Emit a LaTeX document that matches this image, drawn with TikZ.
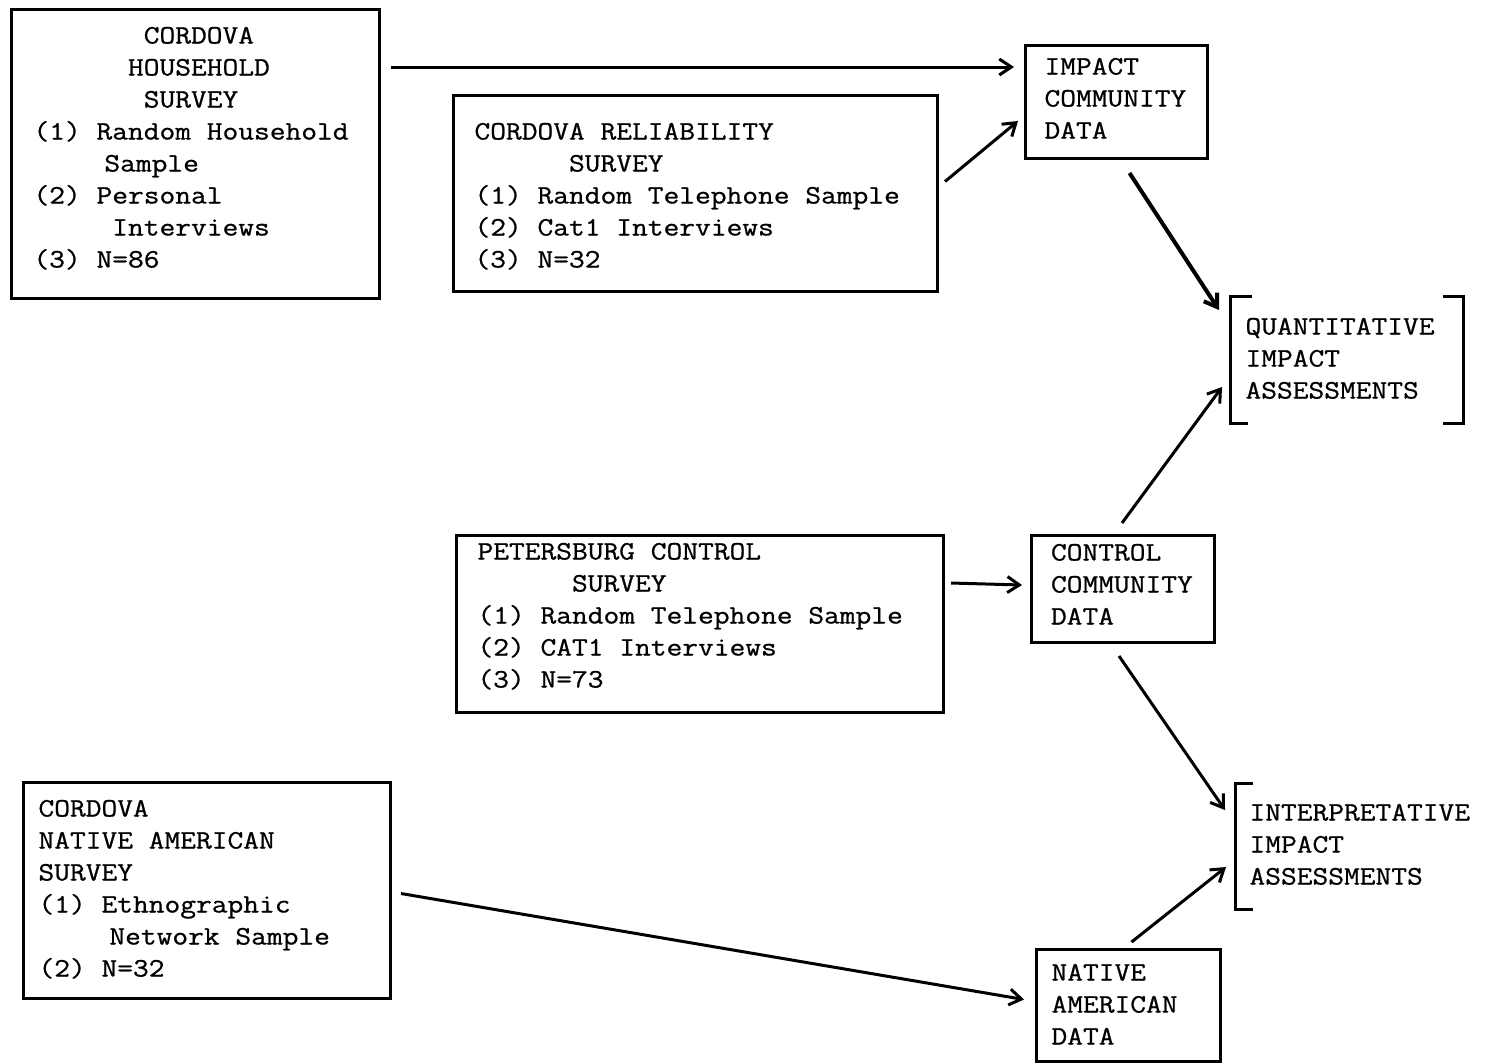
\documentclass[tikz,border=0pt]{standalone}
\usepackage{fontspec}
\usepackage{tikz}
\usetikzlibrary{arrows.meta,calc}
\newfontfamily\typed[FakeBold=0.8, FakeStretch=1.15]{Latin Modern Mono}
\newlength{\chw}
% typewriter font, with a space as wide as one character
\newcommand{\typefont}{\fontsize{13.3}{16}\selectfont\typed\settowidth{\chw}{0}%
  \fontdimen2\font=\chw \fontdimen3\font=0pt \fontdimen4\font=0pt \frenchspacing}
% indent by a number of typewriter characters
\newcommand{\indch}[1]{\hspace*{#1\chw}}

\begin{document}
\begin{tikzpicture}[x=0.5pt, y=-0.5pt,
    survey/.style={draw, line width=1.5pt, anchor=north west, inner ysep=0pt,
                   align=flush left, font=\typefont},
    result/.style={survey, draw=none},
    bracket/.style={line width=1.5pt},
    arr/.style={-{Straight Barb[length=6pt,width=8pt]}, line width=1.5pt}]
    \useasboundingbox (0,0) rectangle (1486,1062);

    % survey boxes
    \node[survey, inner xsep=11pt, text width=162pt, text height=17pt, text depth=127.5pt]
        (household) at (10,8) {
        \indch{7}CORDOVA\\
        \indch{6}HOUSEHOLD\\
        \indch{7}SURVEY\\
        (1) Random Household\\
        \indch{4.5}Sample\\
        (2) Personal\\
        \indch{5}Interviews\\
        (3) N=86};
    \node[survey, inner xsep=10.5pt, text width=221pt, text height=22pt, text depth=76pt]
        (reliability) at (452,94) {
        CORDOVA RELIABILITY\\
        \indch{6}SURVEY\\
        (1) Random Telephone Sample\\
        (2) Cat1 Interviews\\
        (3) N=32};
    \node[survey, inner xsep=10.5pt, text width=222.5pt, text height=12pt, text depth=76.5pt]
        (petersburg) at (455,534) {
        PETERSBURG CONTROL\\
        \indch{6}SURVEY\\
        (1) Random Telephone Sample\\
        (2) CAT1 Interviews\\
        (3) N=73};
    \node[survey, inner xsep=7.5pt, text width=168.5pt, text height=17pt, text depth=91pt]
        (native) at (22,781) {
        CORDOVA\\
        NATIVE AMERICAN\\
        SURVEY\\
        (1) Ethnographic\\
        \indch{4.5}Network Sample\\
        (2) N=32};

    % data boxes
    \node[survey, inner xsep=9.5pt, text width=72pt, text height=14.5pt, text depth=42pt]
        (impact) at (1024,44) {IMPACT\\COMMUNITY\\DATA};
    \node[survey, inner xsep=9.75pt, text width=72pt, text height=12.5pt, text depth=41pt]
        (control) at (1030,534) {CONTROL\\COMMUNITY\\DATA};
    \node[survey, inner xsep=7.5pt, text width=77pt, text height=15.5pt, text depth=40.5pt]
        (nativedata) at (1035,948) {NATIVE\\AMERICAN\\DATA};

    % assessments
    \node[result, inner xsep=7pt, text width=101pt, text height=18.5pt, text depth=43.5pt]
        (quant) at (1230,296) {QUANTITATIVE\\IMPACT\\ASSESSMENTS};
    \node[result, inner xsep=6.5pt, text width=112pt, text height=18pt, text depth=43.5pt]
        (interp) at (1235,783) {INTERPRETATIVE\\IMPACT\\ASSESSMENTS};

    \draw[bracket] ([xshift=11pt]quant.north west) -- (quant.north west)
        -- (quant.south west) -- ([xshift=9pt]quant.south west);
    \draw[bracket] ([xshift=-10pt]quant.north east) -- (quant.north east)
        -- (quant.south east) -- ([xshift=-10pt]quant.south east);
    \draw[bracket] ([xshift=9pt]interp.north west) -- (interp.north west)
        -- (interp.south west) -- ([xshift=9pt]interp.south west);

    % connectors
    \draw[arr] ($(household.north east)+(10,59)$) -- ($(impact.north west)+(-10,23)$);
    \draw[arr] ($(reliability.east)+(6,-12)$) -- ($(impact.south west)+(-6,-39)$);
    \draw[arr, line width=2pt] ($(impact.south)+(13,13)$) -- ($(quant.north west)+(-11,14)$);
    \draw[arr] ($(control.north)+(-1,-11)$) -- ($(quant.south west)+(-8,-36)$);
    \draw[arr] ($(petersburg.north east)+(6,49)$) -- ($(control.west)+(-8,-4)$);
    \draw[arr] ($(control.south)+(-4,12)$) -- ($(interp.north west)+(-10,27)$);
    \draw[arr] ($(native.east)+(9,3)$) -- ($(nativedata.west)+(-11,-6)$);
    \draw[arr] ($(nativedata.north)+(3,-6)$) -- ($(interp.south west)+(-9,-42)$);
\end{tikzpicture}
\end{document}
